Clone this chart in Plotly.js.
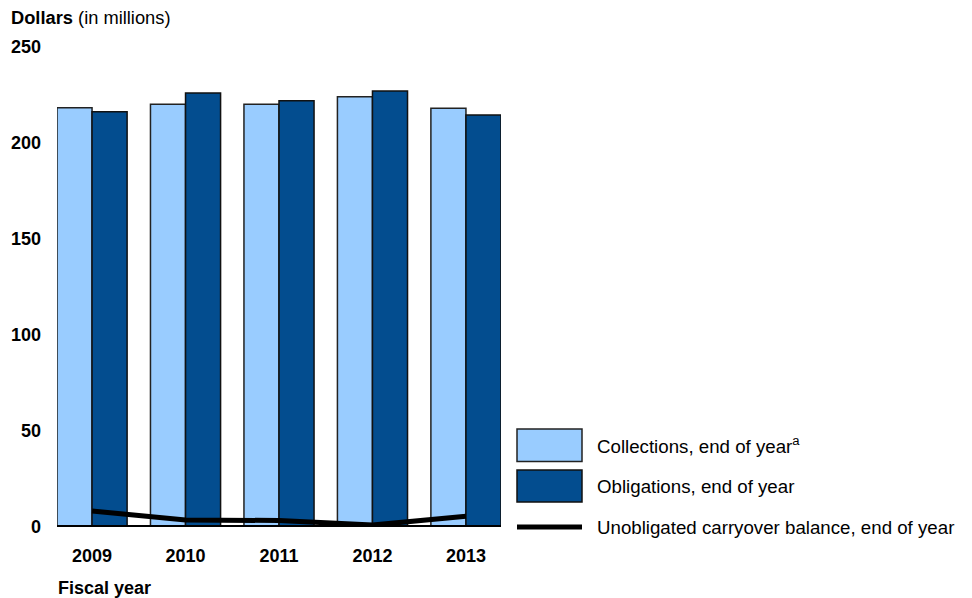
<!DOCTYPE html>
<html>
<head>
<meta charset="utf-8">
<script src="https://cdn.plot.ly/plotly-3.0.1.min.js"></script>
<style>html,body{margin:0;padding:0;background:#fff;}#chart{width:972px;height:598px;}</style>
</head>
<body>
<div id="chart"></div>
<script>
const years = ["2009", "2010", "2011", "2012", "2013"];
const collections = [218.4, 220.2, 220.2, 224.1, 218.1];
const obligations = [216.3, 226.0, 222.0, 227.1, 214.6];
const carryover = [8.3, 3.6, 3.4, 1.0, 5.6];
const legendLabels = ["Collections, end of year<sup>a</sup>", "Obligations, end of year", "Unobligated carryover balance, end of year"];
const yTicks = [0, 50, 100, 150, 200, 250];

const FONT = "Liberation Sans, Arial, sans-serif";
const lightBlue = "#99ccff";
const darkBlue = "#034d8f";

// plot area geometry (pixels) used only for converting legend/label placement
const L = 57, R = 501, T = 47, B = 527, W = 972, H = 598;
const px = x => (x - L) / (R - L);
const py = y => (B - y) / (B - T);

const traces = [
  {type: "bar", x: years, y: collections, name: legendLabels[0],
   marker: {color: lightBlue, line: {color: "#222", width: 1.5}}},
  {type: "bar", x: years, y: obligations, name: legendLabels[1],
   marker: {color: darkBlue, line: {color: "#111", width: 1.5}}},
  {type: "scatter", mode: "lines", x: years, y: carryover, name: legendLabels[2],
   line: {color: "#000", width: 5}}
];

const shapes = [
  {type: "line", xref: "paper", yref: "y", x0: 0, x1: 1, y0: 0, y1: 0, line: {color: "#000", width: 4}, layer: "above"},
  {type: "rect", xref: "paper", yref: "paper", x0: px(517), x1: px(582), y0: py(461.5), y1: py(429), fillcolor: lightBlue, line: {color: "#222", width: 1.5}},
  {type: "rect", xref: "paper", yref: "paper", x0: px(517), x1: px(582), y0: py(502), y1: py(470), fillcolor: darkBlue, line: {color: "#111", width: 1.5}},
  {type: "line", xref: "paper", yref: "paper", x0: px(517), x1: px(582), y0: py(527), y1: py(527), line: {color: "#000", width: 5}}
];

const annotations = [
  {xref: "paper", yref: "paper", x: px(9), y: py(17), xanchor: "left", yanchor: "middle", showarrow: false,
   text: "<b>Dollars</b> (in millions)", font: {family: FONT, size: 18.3, color: "#000"}},
  {xref: "paper", yref: "paper", x: px(56), y: py(588), xanchor: "left", yanchor: "middle", showarrow: false,
   text: "<b>Fiscal year</b>", font: {family: FONT, size: 18, color: "#000"}},
  {xref: "paper", yref: "paper", x: px(595), y: py(445), xanchor: "left", yanchor: "middle", showarrow: false,
   text: legendLabels[0], font: {family: FONT, size: 18.7, color: "#000"}},
  {xref: "paper", yref: "paper", x: px(595), y: py(486), xanchor: "left", yanchor: "middle", showarrow: false,
   text: legendLabels[1], font: {family: FONT, size: 18.7, color: "#000"}},
  {xref: "paper", yref: "paper", x: px(595), y: py(527), xanchor: "left", yanchor: "middle", showarrow: false,
   text: legendLabels[2], font: {family: FONT, size: 18.7, color: "#000"}}
];

const layout = {
  width: W, height: H,
  margin: {l: L, r: W - R, t: T, b: H - B, pad: 0},
  paper_bgcolor: "#fff", plot_bgcolor: "#fff",
  font: {family: FONT, size: 18, color: "#000"},
  showlegend: false,
  barmode: "group", bargap: 0.25, bargroupgap: 0,
  xaxis: {type: "category", range: [-0.375, 4.375], showgrid: false, zeroline: false, showline: false,
          ticks: "", ticklabelstandoff: 16, tickfont: {family: FONT, size: 18, color: "#000", weight: "bold"}, fixedrange: true},
  yaxis: {range: [0, 250], tickvals: yTicks, ticktext: yTicks.map(String), showgrid: false, zeroline: false, showline: false,
          ticks: "", ticklabelstandoff: 15, tickfont: {family: FONT, size: 18, color: "#000", weight: "bold"}, fixedrange: true},
  shapes: shapes,
  annotations: annotations
};

Plotly.newPlot("chart", traces, layout, {displayModeBar: false, staticPlot: true});
</script>
</body>
</html>
